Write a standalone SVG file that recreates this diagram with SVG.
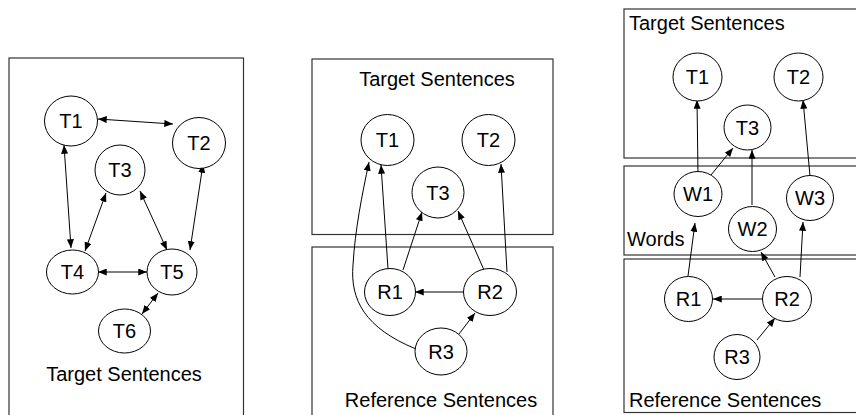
<svg xmlns="http://www.w3.org/2000/svg" width="856" height="415" viewBox="0 0 856 415">
<defs>
<marker id="ah" viewBox="0 0 10 8" refX="10" refY="4" markerWidth="9" markerHeight="7" markerUnits="userSpaceOnUse" orient="auto-start-reverse">
<path d="M0,0 L10,4 L0,8 z" fill="#000"/>
</marker>
<style>
.box{fill:none;stroke:#333;stroke-width:1.2}
.n ellipse{fill:#fff;stroke:#000;stroke-width:1}
.n text{font-family:"Liberation Sans",Arial,sans-serif;font-size:20px;text-anchor:middle;fill:#000}
.lbl{font-family:"Liberation Sans",Arial,sans-serif;font-size:20px;fill:#000}
.e path,.e line{fill:none;stroke:#000;stroke-width:1}
.one{marker-end:url(#ah)}
.two{marker-start:url(#ah);marker-end:url(#ah)}
</style>
</defs>
<rect width="856" height="415" fill="#fff"/>

<!-- panel boxes -->
<g id="boxes">
<rect class="box" x="9" y="58" width="234.5" height="370"/>
<rect class="box" x="312" y="59" width="241" height="175.5"/>
<rect class="box" x="312" y="247" width="241" height="180"/>
<rect class="box" x="624" y="9" width="240" height="149"/>
<rect class="box" x="624" y="166" width="240" height="89"/>
<rect class="box" x="624" y="259" width="240" height="153.5"/>
</g>

<g id="labels">
<text class="lbl" x="124" y="381" text-anchor="middle">Target Sentences</text>
<text class="lbl" x="437" y="86" text-anchor="middle">Target Sentences</text>
<text class="lbl" x="441" y="407" text-anchor="middle">Reference Sentences</text>
<text class="lbl" x="629" y="30">Target Sentences</text>
<text class="lbl" x="627" y="246">Words</text>
<text class="lbl" x="629" y="407">Reference Sentences</text>
</g>

<g id="connectors" class="e">
<!-- panel 1 -->
<line class="two" x1="98" y1="119" x2="173" y2="124"/>
<line class="two" x1="64" y1="145" x2="71" y2="248"/>
<line class="two" x1="106" y1="193" x2="85" y2="251"/>
<line class="two" x1="140" y1="191" x2="167" y2="250"/>
<line class="two" x1="203" y1="164" x2="190" y2="250"/>
<line class="two" x1="98" y1="272" x2="147" y2="272"/>
<line class="two" x1="158" y1="293" x2="142" y2="314"/>
<!-- panel 2 -->
<line class="one" x1="388" y1="269" x2="381" y2="165"/>
<line class="one" x1="403" y1="270" x2="422" y2="212"/>
<line class="one" x1="484" y1="270" x2="458" y2="211"/>
<line class="one" x1="507" y1="272" x2="501" y2="164"/>
<line class="one" x1="464" y1="292" x2="415" y2="292"/>
<line class="one" x1="459" y1="334" x2="475" y2="313"/>
<path class="one" d="M416,349 C365,328 350,300 353,265 C355,230 362,195 369,162"/>
<!-- panel 3 -->
<line class="one" x1="698" y1="174" x2="697" y2="100"/>
<line class="one" x1="711" y1="175" x2="733" y2="148"/>
<line class="one" x1="752" y1="205" x2="752" y2="150"/>
<line class="one" x1="810" y1="176" x2="803" y2="100"/>
<line class="one" x1="688" y1="276" x2="695" y2="223"/>
<line class="one" x1="775" y1="277" x2="761" y2="252"/>
<line class="one" x1="800" y1="277" x2="803" y2="222"/>
<line class="one" x1="763" y1="299" x2="713" y2="299"/>
<line class="one" x1="757" y1="340" x2="775" y2="318"/>
</g>

<!-- panel 1 nodes -->
<g id="p1-T1" class="n"><ellipse cx="71" cy="121" rx="26.5" ry="25"/><text x="71" y="128">T1</text></g>
<g id="p1-T2" class="n"><ellipse cx="199" cy="143" rx="26.5" ry="25.5"/><text x="199" y="150">T2</text></g>
<g id="p1-T3" class="n"><ellipse cx="120" cy="170" rx="25" ry="25"/><text x="120" y="177">T3</text></g>
<g id="p1-T4" class="n"><ellipse cx="72.5" cy="272" rx="26" ry="22"/><text x="72.5" y="279">T4</text></g>
<g id="p1-T5" class="n"><ellipse cx="172" cy="272" rx="25" ry="23"/><text x="172" y="279">T5</text></g>
<g id="p1-T6" class="n"><ellipse cx="124.5" cy="331" rx="26" ry="22"/><text x="124.5" y="338">T6</text></g>

<!-- panel 2 nodes -->
<g id="p2-T1" class="n"><ellipse cx="387.5" cy="140" rx="26.5" ry="25.5"/><text x="387.5" y="147">T1</text></g>
<g id="p2-T2" class="n"><ellipse cx="488.5" cy="140" rx="26.5" ry="25.5"/><text x="488.5" y="147">T2</text></g>
<g id="p2-T3" class="n"><ellipse cx="438" cy="192.5" rx="26" ry="25.5"/><text x="438" y="199.5">T3</text></g>
<g id="p2-R1" class="n"><ellipse cx="390" cy="292" rx="25.5" ry="23.5"/><text x="390" y="299">R1</text></g>
<g id="p2-R2" class="n"><ellipse cx="490" cy="292" rx="26.5" ry="23.5"/><text x="490" y="299">R2</text></g>
<g id="p2-R3" class="n"><ellipse cx="441" cy="351.5" rx="26" ry="23.5"/><text x="441" y="358.5">R3</text></g>

<!-- panel 3 nodes -->
<g id="p3-T1" class="n"><ellipse cx="697.5" cy="77" rx="24.5" ry="24"/><text x="697.5" y="84">T1</text></g>
<g id="p3-T2" class="n"><ellipse cx="798.5" cy="77" rx="24.5" ry="24"/><text x="798.5" y="84">T2</text></g>
<g id="p3-T3" class="n"><ellipse cx="747.5" cy="127.5" rx="23.5" ry="22.5"/><text x="747.5" y="134.5">T3</text></g>
<g id="p3-W1" class="n"><ellipse cx="698" cy="194" rx="24" ry="22.5"/><text x="698" y="201">W1</text></g>
<g id="p3-W2" class="n"><ellipse cx="752.5" cy="229" rx="24" ry="22.5"/><text x="752.5" y="236">W2</text></g>
<g id="p3-W3" class="n"><ellipse cx="810" cy="198" rx="23.5" ry="22.5"/><text x="810" y="205">W3</text></g>
<g id="p3-R1" class="n"><ellipse cx="688.5" cy="299" rx="24" ry="22.5"/><text x="688.5" y="306">R1</text></g>
<g id="p3-R2" class="n"><ellipse cx="787" cy="299" rx="24.5" ry="22.5"/><text x="787" y="306">R2</text></g>
<g id="p3-R3" class="n"><ellipse cx="737" cy="357" rx="23" ry="22.5"/><text x="737" y="364">R3</text></g>
</svg>
